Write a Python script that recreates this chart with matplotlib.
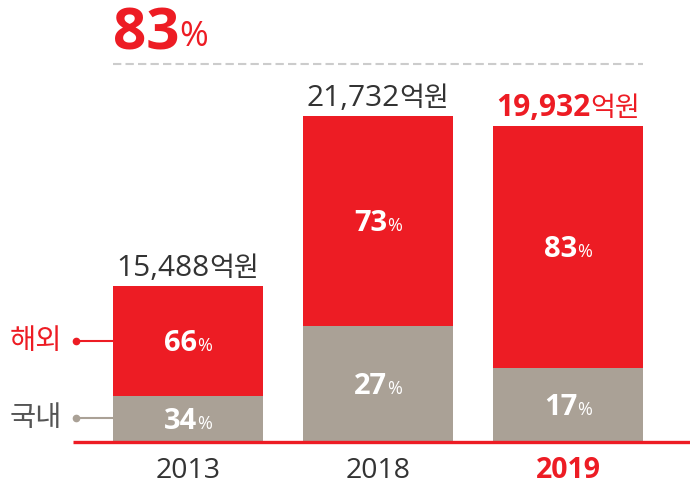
import matplotlib
matplotlib.use("Agg")
import matplotlib.pyplot as plt
from matplotlib.transforms import ScaledTranslation

# data
years = ["2013", "2018", "2019"]
totals = ["15,488", "21,732", "19,932"]
domestic_pct = [34, 27, 17]
overseas_pct = [66, 73, 83]
# bar segment heights as drawn (illustrative, not to scale)
domestic_h = [46, 116, 74]
overseas_h = [110, 210, 242]
headline = "83"

RED = "#ED1C24"
GRAY = "#AAA196"
DARK = "#333333"
NUM = ["Open Sans", "Noto Sans CJK KR"]
KR = ["Noto Sans CJK KR", "DejaVu Sans"]

fig = plt.figure(figsize=(6.9, 4.87), dpi=100)
ax = fig.add_axes([0, 0, 1, 1])
ax.set_xlim(-188 / 190, 502 / 190)
ax.set_ylim(-45, 442)
ax.axis("off")

x = range(len(years))
w = 150 / 190
ax.bar(x, domestic_h, width=w, color=GRAY, zorder=2)
ax.bar(x, overseas_h, width=w, bottom=domestic_h, color=RED, zorder=2)


def pair(xc, y, parts, align="center", raise_px=None):
    """place a row of text pieces side by side, baseline aligned"""
    texts = []
    for s, kw in parts:
        texts.append(ax.text(xc, y, s, ha="left", va="baseline", **kw))
    fig.canvas.draw()
    r = fig.canvas.get_renderer()
    widths = [t.get_window_extent(r).width for t in texts]
    total = sum(widths)
    start = -total / 2 if align == "center" else 0
    off = start
    for i, (t, wd) in enumerate(zip(texts, widths)):
        dy = raise_px[i] if raise_px else 0
        t.set_transform(ax.transData + ScaledTranslation(off / 100, dy / 100, fig.dpi_scale_trans))
        off += wd
    return texts


# percentages inside bars
for i in x:
    yd = domestic_h[i] / 2 - 10
    yo = domestic_h[i] + overseas_h[i] / 2 - 10
    for yy, v in [(yd, domestic_pct[i]), (yo, overseas_pct[i])]:
        pair(i, yy, [(str(v), dict(color="white", fontsize=21, fontweight="bold", family=NUM)),
                     ("%", dict(color="white", fontsize=13, family=NUM))])

# totals above bars
for i in x:
    top = domestic_h[i] + overseas_h[i] + 10
    last = i == len(years) - 1
    c = RED if last else DARK
    pair(i, top, [(totals[i], dict(color=c, fontsize=21.5, fontweight="bold" if last else "normal", family=NUM)),
                  ("억원", dict(color=c, fontsize=19.5, family=KR))])

# year labels
for i in x:
    last = i == len(years) - 1
    ax.text(i, -36, years[i], ha="center", va="baseline", fontsize=20.5,
            color=RED if last else DARK, fontweight="bold" if last else "normal", family=NUM)

# baseline
ax.plot([-115 / 190, 502 / 190], [0, 0], color=RED, lw=2.4, solid_capstyle="butt", zorder=3)

# headline and dashed rule
pair(-w / 2, 392, [(headline, dict(color=RED, fontsize=42, fontweight="bold", family=NUM)),
                   ("%", dict(color=RED, fontsize=25, family=NUM))], align="left", raise_px=[0, 4])
ax.plot([-w / 2, 2 + w / 2], [378, 378], color="#CCCCCC", lw=1.5, dashes=(4, 2))

# legend markers
for label, col, tc, yy in [("해외", RED, RED, 101), ("국내", GRAY, "#555555", 24)]:
    ax.plot([-112 / 190, -w / 2], [yy, yy], color=col, lw=1.5, zorder=1)
    ax.plot([-112 / 190], [yy], "o", color=col, ms=4.5)
    ax.text(-126 / 190, yy, label, ha="right", va="center", fontsize=20.5, color=tc, family=KR)

fig.savefig("out.png", dpi=100)
